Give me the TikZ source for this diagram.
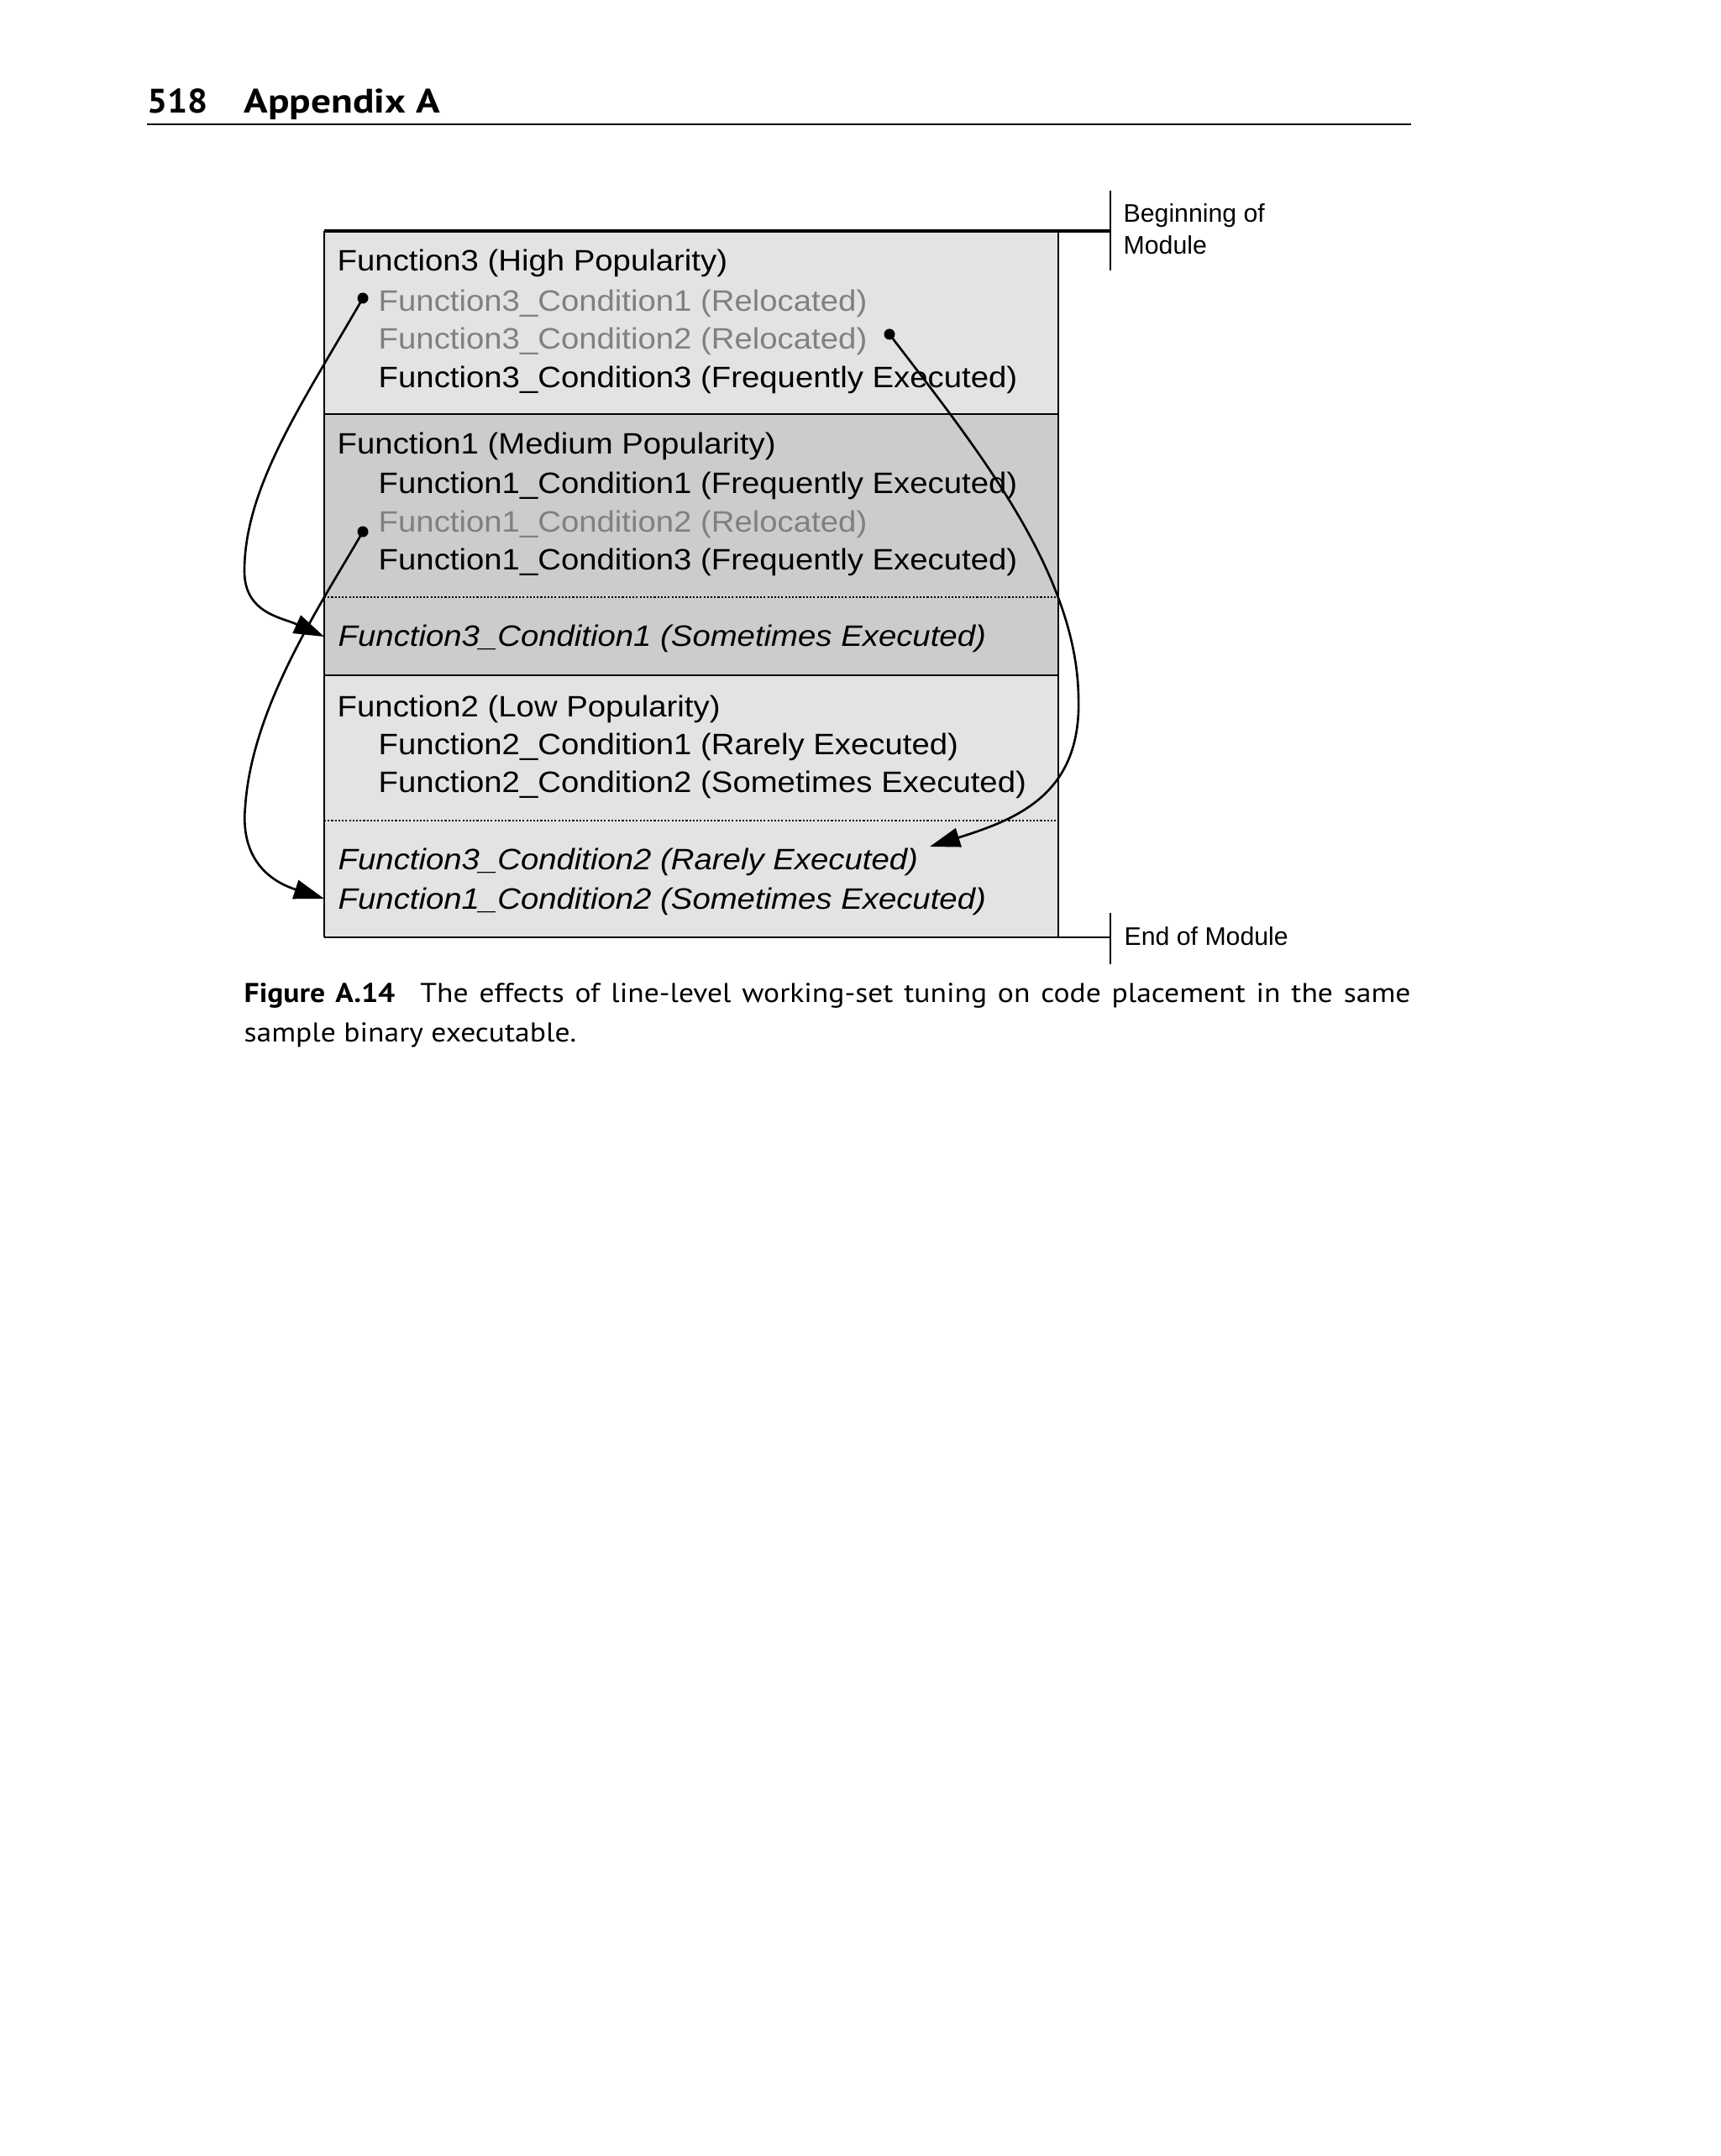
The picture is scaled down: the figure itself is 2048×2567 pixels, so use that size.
\documentclass[tikz,border=0pt]{standalone}
\usepackage{fontspec}
\setmainfont{Liberation Sans}
\newfontfamily\diagfont[FakeStretch=1.09]{Liberation Sans}
\newfontfamily\capfont[FakeStretch=1.1]{PT Sans}
\newfontfamily\numfont[FakeStretch=1.05]{PT Sans}
\newfontfamily\chapfont[FakeStretch=1.17]{PT Sans}
\usetikzlibrary{arrows.meta}
\definecolor{lightbox}{HTML}{E3E3E3}
\definecolor{darkbox}{HTML}{CCCCCC}
\definecolor{relocgray}{HTML}{808080}
\begin{document}
\begin{tikzpicture}[x=0.01cm,y=-0.01cm,
  txt/.style={anchor=base west, inner sep=0pt, font=\diagfont\fontsize{10}{12}\selectfont},
  reloc/.style={txt, text=relocgray},
  moved/.style={txt, font=\diagfont\itshape\fontsize{10}{12}\selectfont},
  lbl/.style={anchor=base west, inner sep=0pt, font=\fontsize{8.6}{10}\selectfont},
  boxline/.style={line width=0.6pt},
  sepdot/.style={line width=0.5pt, dash pattern=on 0.6pt off 0.6pt},
  conn/.style={line width=0.75pt, -{Triangle[length=0.36cm,width=0.23cm]}},
  dotmark/.style={circle, fill=black, inner sep=0pt, minimum size=0.13cm},
  hdrnum/.style={anchor=base west, inner sep=0pt, font=\numfont\bfseries\fontsize{11.5}{14}\selectfont},
  hdrchap/.style={anchor=base west, inner sep=0pt, font=\chapfont\bfseries\fontsize{11.5}{14}\selectfont},
  captext/.style={anchor=base west, inner sep=0pt, font=\capfont\fontsize{9.2}{12}\selectfont}]
\useasboundingbox (0,0) rectangle (2048,2567);
\fill[white] (0,0) rectangle (2048,2567);

% header
\node[hdrnum] (pagenum) at (175,135) {518};
\node[hdrchap] (chap) at (290,135) {Appendix A};
\draw[line width=0.85pt] (175,148) -- (1680,148);

% section fills
\fill[lightbox] (386,275) rectangle (1260,493);
\fill[darkbox] (386,493) rectangle (1260,804);
\fill[lightbox] (386,804) rectangle (1260,1116);

% section borders
\draw[boxline] (386,275) -- (386,1116);
\draw[boxline] (1260,275) -- (1260,1116);
\draw[boxline] (386,493) -- (1260,493);
\draw[boxline] (386,804) -- (1260,804);
\draw[sepdot] (386,711) -- (1260,711);
\draw[sepdot] (386,977) -- (1260,977);
\draw[line width=1.1pt] (386,275) -- (1322,275);
\draw[line width=0.8pt] (386,1116) -- (1322,1116);

% module markers
\draw[line width=0.6pt] (1322,227) -- (1322,322);
\node[lbl] (begin1) at (1337,265) {Beginning of};
\node[lbl] (begin2) at (1337,303) {Module};
\draw[line width=0.6pt] (1322,1087) -- (1322,1148);
\node[lbl] (endmod) at (1338,1125) {End of Module};

% texts section 1
\node[txt] (f3) at (401,323) {Function3 (High Popularity)};
\node[reloc] (f3c1) at (450,370) {Function3\_Condition1 (Relocated)};
\node[reloc] (f3c2) at (450,416) {Function3\_Condition2 (Relocated)};
\node[txt] (f3c3) at (450,462) {Function3\_Condition3 (Frequently Executed)};
% section 2
\node[txt] (f1) at (401,541) {Function1 (Medium Popularity)};
\node[txt] (f1c1) at (450,587) {Function1\_Condition1 (Frequently Executed)};
\node[reloc] (f1c2) at (450,633) {Function1\_Condition2 (Relocated)};
\node[txt] (f1c3) at (450,678) {Function1\_Condition3 (Frequently Executed)};
\node[moved] (m3c1) at (402,769) {Function3\_Condition1 (Sometimes Executed)};
% section 3
\node[txt] (f2) at (401,853) {Function2 (Low Popularity)};
\node[txt] (f2c1) at (450,898) {Function2\_Condition1 (Rarely Executed)};
\node[txt] (f2c2) at (450,943) {Function2\_Condition2 (Sometimes Executed)};
\node[moved] (m3c2) at (402,1035) {Function3\_Condition2 (Rarely Executed)};
\node[moved] (m1c2) at (402,1082) {Function1\_Condition2 (Sometimes Executed)};

% dots
\node[dotmark] (d1) at (432,355) {};
\node[dotmark] (d2) at (1059,398) {};
\node[dotmark] (d3) at (432,633) {};
\coordinate (t1) at (386,758);
\coordinate (t2) at (386,1070);
\coordinate (t3) at (1107,1008);

% connectors
\draw[conn] (d1.center) .. controls (360,480) and (291,580) .. (291,680)
  .. controls (291,730) and (335,735) .. (t1);
\draw[conn] (d3.center) .. controls (385,715) and (300,840) .. (292,960)
  .. controls (285,1030) and (330,1052) .. (t2);
\draw[conn] (d2.center) .. controls (1160,530) and (1282,680) .. (1284,830)
  .. controls (1288,945) and (1212,975) .. (t3);

% caption
\node[captext] (capl1) at (290,1193) {\makebox[13.88cm][s]{\textbf{Figure A.14}\hspace*{0.3cm}The effects of line-level working-set tuning on code placement in the same}};
\node[captext] (capl2) at (290,1240) {sample binary executable.};
\end{tikzpicture}
\end{document}
